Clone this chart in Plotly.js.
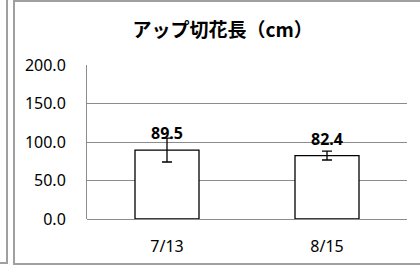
<!DOCTYPE html>
<html><head><meta charset="utf-8">
<script src="https://cdn.plot.ly/plotly-3.0.1.min.js"></script>
<style>
html,body{margin:0;padding:0;background:#fff;width:420px;height:266px;overflow:hidden;}
#prev{position:absolute;left:-4px;top:-4px;width:10px;height:266px;border-right:2px solid #a0a0a0;border-bottom:2px solid #a0a0a0;}
#frame{position:absolute;left:13px;top:0px;width:420px;height:261px;border:2px solid #a0a0a0;}
#chart{position:absolute;left:0;top:0;width:420px;height:266px;}
</style></head>
<body>
<div id="prev"></div>
<div id="frame"></div>
<div id="chart"></div>
<script>
const categories = ['7/13', '8/15'];
const values = [89.5, 82.4];
const errors = [15.5, 5.8];
const labels = ['89.5', '82.4'];
const yTicks = [0, 50, 100, 150, 200];
const yTickText = ['0.0', '50.0', '100.0', '150.0', '200.0'];

const tickFont = {family: '"Noto Sans", "Open Sans", sans-serif', size: 16, color: '#000'};

const trace = {
  type: 'bar', x: categories, y: values,
  marker: {color: '#ffffff', line: {color: '#000', width: 1.3}},
  error_y: {type: 'data', array: errors, visible: true, color: '#000', thickness: 1.3, width: 5},
  hoverinfo: 'none'
};

const annotations = categories.map((c, i) => ({
  x: c, y: values[i], xref: 'x', yref: 'y', text: '<b>' + labels[i] + '</b>',
  showarrow: false, yanchor: 'bottom', yshift: 4,
  font: {family: '"Noto Sans", "Open Sans", sans-serif', size: 16, color: '#000'}
}));

const layout = {
  width: 420, height: 266,
  margin: {l: 87, r: 13, t: 65, b: 47, pad: 0},
  paper_bgcolor: 'rgba(0,0,0,0)', plot_bgcolor: 'rgba(0,0,0,0)',
  showlegend: false, bargap: 0.6,
  title: {text: '<b>アップ切花長（cm）</b>', x: 0.53, xanchor: 'center', y: 0.885, yanchor: 'middle',
    font: {family: '"Noto Sans CJK JP", sans-serif', size: 19, color: '#000'}},
  xaxis: {type: 'category', range: [-0.5, 1.5], showgrid: false, zeroline: false, showline: false,
    ticks: 'outside', ticklen: 13, tickcolor: 'rgba(0,0,0,0)', tickfont: tickFont, fixedrange: true},
  yaxis: {range: [0, 200], tickvals: yTicks, ticktext: yTickText, showgrid: true, gridcolor: '#8c8c8c', gridwidth: 1,
    zeroline: true, zerolinecolor: '#8c8c8c', zerolinewidth: 1, showline: true, linecolor: '#8c8c8c', linewidth: 1,
    ticks: 'outside', ticklen: 17, tickcolor: 'rgba(0,0,0,0)', tickfont: tickFont, fixedrange: true},
  annotations: annotations
};

Plotly.newPlot('chart', [trace], layout, {staticPlot: true, displayModeBar: false});
</script>
</body></html>
